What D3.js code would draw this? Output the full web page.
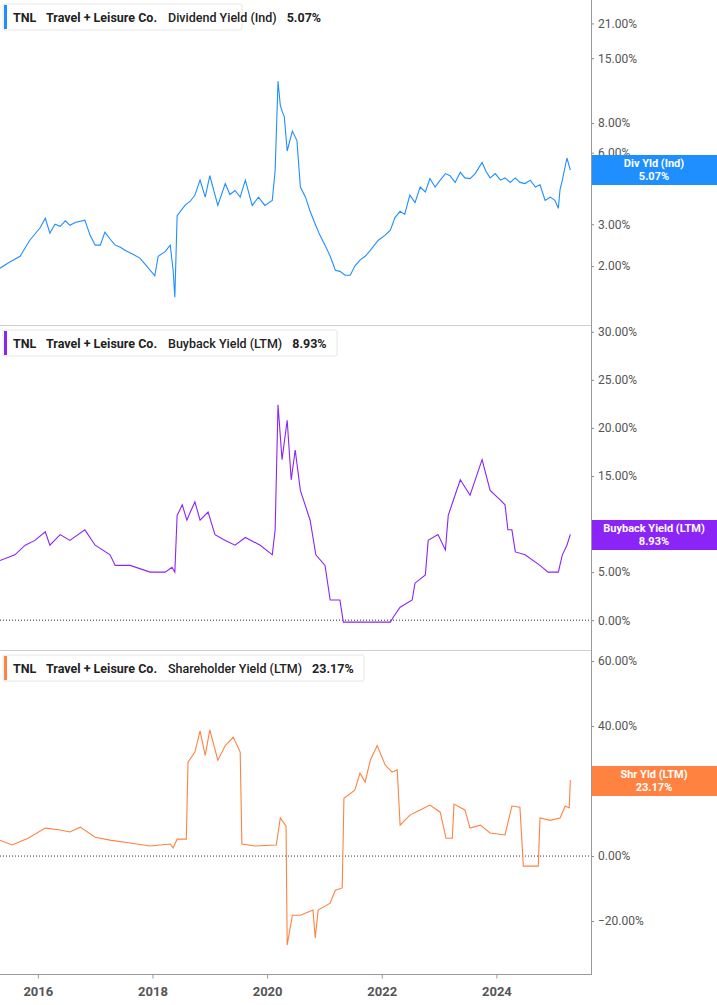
<!DOCTYPE html>
<html>
<head>
<meta charset="utf-8">
<script src="https://cdn.jsdelivr.net/npm/d3@7"></script>
<style>
  body { margin: 0; background: #fff; }
  svg text { font-family: Roboto, "Noto Sans", sans-serif; }
</style>
</head>
<body>
<svg id="chart" width="717" height="1005"></svg>
<script>
// data: [decimal year, percent]
var divYield = [
  [2015.34,1.96],[2015.51,2.08],[2015.69,2.2],[2015.86,2.57],[2016.04,2.9],[2016.13,3.18],[2016.21,2.75],
  [2016.30,3.0],[2016.39,2.94],[2016.48,3.1],[2016.56,2.97],[2016.65,3.05],[2016.82,3.12],[2016.91,2.7],
  [2017.00,2.45],[2017.09,2.45],[2017.17,2.78],[2017.26,2.6],[2017.35,2.45],[2017.44,2.4],[2017.52,2.33],
  [2017.65,2.25],[2017.78,2.16],[2017.90,2.0],[2018.04,1.82],[2018.10,2.2],[2018.22,2.3],[2018.31,2.45],
  [2018.36,1.92],[2018.39,1.48],[2018.43,3.26],[2018.57,3.61],[2018.66,3.75],[2018.74,3.98],[2018.83,4.6],
  [2018.92,3.9],[2019.00,4.8],[2019.14,3.6],[2019.27,4.45],[2019.35,4.0],[2019.44,4.16],[2019.53,3.9],
  [2019.62,4.6],[2019.74,3.6],[2019.85,3.9],[2019.96,3.6],[2020.09,3.78],[2020.14,5.05],[2020.19,12],
  [2020.23,9.5],[2020.26,9],[2020.30,8.5],[2020.35,6.1],[2020.44,7.4],[2020.52,6.75],[2020.58,4.3],
  [2020.67,3.9],[2020.75,3.4],[2020.84,3.0],[2020.92,2.7],[2021.01,2.45],[2021.10,2.2],[2021.19,1.92],
  [2021.27,1.9],[2021.36,1.83],[2021.45,1.83],[2021.53,2.0],[2021.62,2.12],[2021.71,2.2],[2021.80,2.33],
  [2021.94,2.57],[2022.06,2.7],[2022.15,2.83],[2022.23,3.2],[2022.32,3.4],[2022.40,3.3],[2022.49,3.98],
  [2022.58,3.7],[2022.67,4.3],[2022.76,4.1],[2022.84,4.67],[2022.93,4.3],[2023.02,4.6],[2023.11,4.9],
  [2023.19,4.8],[2023.28,4.5],[2023.37,4.96],[2023.45,4.7],[2023.54,4.67],[2023.63,4.9],[2023.75,5.46],
  [2023.82,5.0],[2023.89,4.7],[2023.98,4.9],[2024.07,4.6],[2024.15,4.7],[2024.24,4.5],[2024.33,4.7],
  [2024.41,4.5],[2024.50,4.45],[2024.59,4.6],[2024.68,4.3],[2024.76,4.4],[2024.85,3.78],[2024.94,3.9],
  [2025.02,3.78],[2025.08,3.5],[2025.11,4.2],[2025.15,4.6],[2025.23,5.7],[2025.29,5.07]
];
var buyback = [
  [2015.34,6.2],[2015.60,6.8],[2015.78,7.8],[2015.95,8.3],[2016.13,9.2],[2016.21,7.8],[2016.39,8.9],
  [2016.56,8.3],[2016.82,9.4],[2017.00,7.8],[2017.26,6.8],[2017.35,5.7],[2017.61,5.7],[2017.96,5.0],
  [2018.22,5.0],[2018.34,5.5],[2018.39,5.0],[2018.43,10.9],[2018.52,12],[2018.60,10.4],[2018.66,11.25],
  [2018.74,12.3],[2018.83,10.4],[2018.97,11.25],[2019.09,8.9],[2019.27,8.3],[2019.44,7.8],[2019.62,8.6],
  [2019.88,7.8],[2020.09,6.8],[2020.14,9.4],[2020.19,22.4],[2020.26,16.7],[2020.35,20.8],[2020.42,14.6],
  [2020.49,17.7],[2020.58,13.5],[2020.75,10.4],[2020.85,6.8],[2021.01,5.7],[2021.10,2.1],[2021.27,2.1],
  [2021.33,-0.2],[2022.15,-0.2],[2022.20,0.3],[2022.32,1.35],[2022.53,2.1],[2022.58,3.85],[2022.76,4.7],
  [2022.81,8.3],[2022.98,8.9],[2023.11,7.3],[2023.16,10.9],[2023.25,12.5],[2023.37,14.6],[2023.54,13],
  [2023.63,14.6],[2023.75,16.7],[2023.89,13.5],[2024.07,12.5],[2024.15,12],[2024.20,9.4],[2024.27,9.4],
  [2024.33,7.1],[2024.50,6.8],[2024.76,5.7],[2024.90,5.0],[2025.08,5.0],[2025.15,6.8],[2025.23,7.8],[2025.29,8.93]
];
var shrYield = [
  [2015.34,4.9],[2015.55,3.4],[2015.83,5.5],[2016.13,8.6],[2016.39,8],[2016.56,7.4],[2016.74,8.9],
  [2017.00,5.8],[2017.26,4.9],[2017.61,4],[2017.96,3.1],[2018.31,3.7],[2018.36,2.5],[2018.43,5.2],
  [2018.59,5.2],[2018.62,28.9],[2018.74,32],[2018.83,38.5],[2018.92,31],[2019.00,38.8],[2019.14,29.5],
  [2019.27,34],[2019.41,36.6],[2019.53,32],[2019.56,3.7],[2019.79,3.1],[2020.16,3.4],[2020.23,11.7],
  [2020.33,9.2],[2020.35,-27.4],[2020.44,-18.2],[2020.58,-18.2],[2020.80,-16.6],[2020.84,-25.2],
  [2020.89,-16.6],[2021.10,-14.5],[2021.19,-10.5],[2021.31,-9.8],[2021.34,17.8],[2021.53,20.3],
  [2021.62,25.5],[2021.71,22.8],[2021.80,29.5],[2021.92,34],[2022.06,28],[2022.18,25.8],[2022.27,26.5],
  [2022.32,9.5],[2022.49,12.6],[2022.67,14.2],[2022.84,15.7],[2023.02,13.5],[2023.12,5.5],[2023.23,5.5],
  [2023.26,16],[2023.45,14.2],[2023.54,8.6],[2023.72,9.5],[2023.89,7.1],[2024.15,6.5],[2024.27,15.4],
  [2024.41,15],[2024.47,-3.1],[2024.73,-3.1],[2024.76,11.7],[2024.94,11],[2025.11,11.7],[2025.20,15.4],
  [2025.27,14.8],[2025.29,23.4]
];
var yearTicks = [2016, 2018, 2020, 2022, 2024];
var divTicks = [2, 3, 6, 8, 15, 21];
var buyTicks = [0, 5, 15, 20, 25, 30];   // 10% sits under the value tag
var shrTicks = [-20, 0, 20, 40, 60];

var svg = d3.select("#chart");
var plotW = 591;
var x = d3.scaleLinear().domain([2015.34, 2025.65]).range([0, plotW]);

var panels = [
  { data: divYield, top: 0, bottom: 325, scale: d3.scaleLog().domain([1.13, 26.1]),
    ticks: divTicks, color: "#1f8fff", metric: "Dividend Yield (Ind)", value: "5.07%",
    tag: "Div Yld (Ind)", legendW: 239, zero: false, tagY: 170 },
  { data: buyback, top: 325, bottom: 650, scale: d3.scaleLinear().domain([-3.1, 30.6]),
    ticks: buyTicks, color: "#8b24f7", metric: "Buyback Yield (LTM)", value: "8.93%",
    tag: "Buyback Yield (LTM)", legendW: 334, zero: true, tagY: 535 },
  { data: shrYield, top: 650, bottom: 975, scale: d3.scaleLinear().domain([-36.6, 63.1]),
    ticks: shrTicks, color: "#ff8240", metric: "Shareholder Yield (LTM)", value: "23.17%",
    tag: "Shr Yld (LTM)", legendW: 361, zero: true, tagY: 781 }
];

panels.forEach(function(p, i) {
  var y = p.scale.range([p.bottom, p.top + 1]);
  var g = svg.append("g");

  if (i > 0)
    g.append("line").attr("x1", 0).attr("x2", plotW).attr("y1", p.top + 0.5).attr("y2", p.top + 0.5)
      .attr("stroke", "#cfcfcf");

  if (p.zero)
    g.append("line").attr("x1", 0).attr("x2", plotW).attr("y1", y(0)).attr("y2", y(0))
      .attr("stroke", "#333").attr("stroke-dasharray", "1,2");

  var ax = g.append("g").attr("transform", "translate(" + plotW + ",0)")
    .call(d3.axisRight(y).tickValues(p.ticks).tickSize(3).tickPadding(4)
      .tickFormat(function(d) { return d3.format(".2f")(d) + "%"; }));
  ax.select(".domain").remove();
  ax.selectAll("line").attr("stroke", "#888");
  ax.selectAll("text").attr("fill", "#555").style("font-size", "12px");

  g.append("path").datum(p.data)
    .attr("fill", "none").attr("stroke", p.color).attr("stroke-width", 1.1)
    .attr("d", d3.line().x(function(d) { return x(d[0]); }).y(function(d) { return y(d[1]); }));

  // legend box
  var lg = g.append("g").attr("transform", "translate(3," + (p.top + (i ? 5 : 4)) + ")");
  lg.append("rect").attr("width", p.legendW).attr("height", 26).attr("rx", 2)
    .attr("fill", "#fff").attr("stroke", "#e6e6e6");
  lg.append("rect").attr("x", 1).attr("y", 1).attr("width", 3).attr("height", 24).attr("fill", p.color);
  var t = lg.append("text").attr("x", 10).attr("y", 17.5).style("font-size", "12.5px").attr("fill", "#222");
  t.append("tspan").attr("font-weight", "bold").text("TNL");
  t.append("tspan").attr("dx", 11).attr("font-weight", "bold").text("Travel + Leisure Co.");
  t.append("tspan").attr("dx", 11).attr("font-weight", 500).text(p.metric);
  t.append("tspan").attr("dx", 10).attr("font-weight", "bold").text(p.value);

  // value tag
  var ty = p.tagY;
  g.append("rect").attr("x", plotW).attr("y", ty - 15).attr("width", 717 - plotW).attr("height", 30)
    .attr("fill", p.color);
  g.append("text").attr("x", 654).attr("y", ty - 3).attr("text-anchor", "middle")
    .attr("fill", "#fff").attr("font-weight", "bold").style("font-size", "11px").text(p.tag);
  g.append("text").attr("x", 654).attr("y", ty + 10).attr("text-anchor", "middle")
    .attr("fill", "#fff").attr("font-weight", "bold").style("font-size", "11px").text(p.value);
});

svg.append("line").attr("x1", plotW + 0.5).attr("x2", plotW + 0.5).attr("y1", 0).attr("y2", 975)
  .attr("stroke", "#999");

var xa = svg.append("g").attr("transform", "translate(0,974.5)")
  .call(d3.axisBottom(x).tickValues(yearTicks).tickSize(4).tickPadding(8).tickFormat(d3.format("d")));
xa.select(".domain").attr("d", "M0,0H" + plotW).attr("stroke", "#999");
xa.selectAll("line").attr("stroke", "#999");
xa.selectAll("text").attr("fill", "#555").attr("font-weight", "bold").style("font-size", "13px");
</script>
</body>
</html>
